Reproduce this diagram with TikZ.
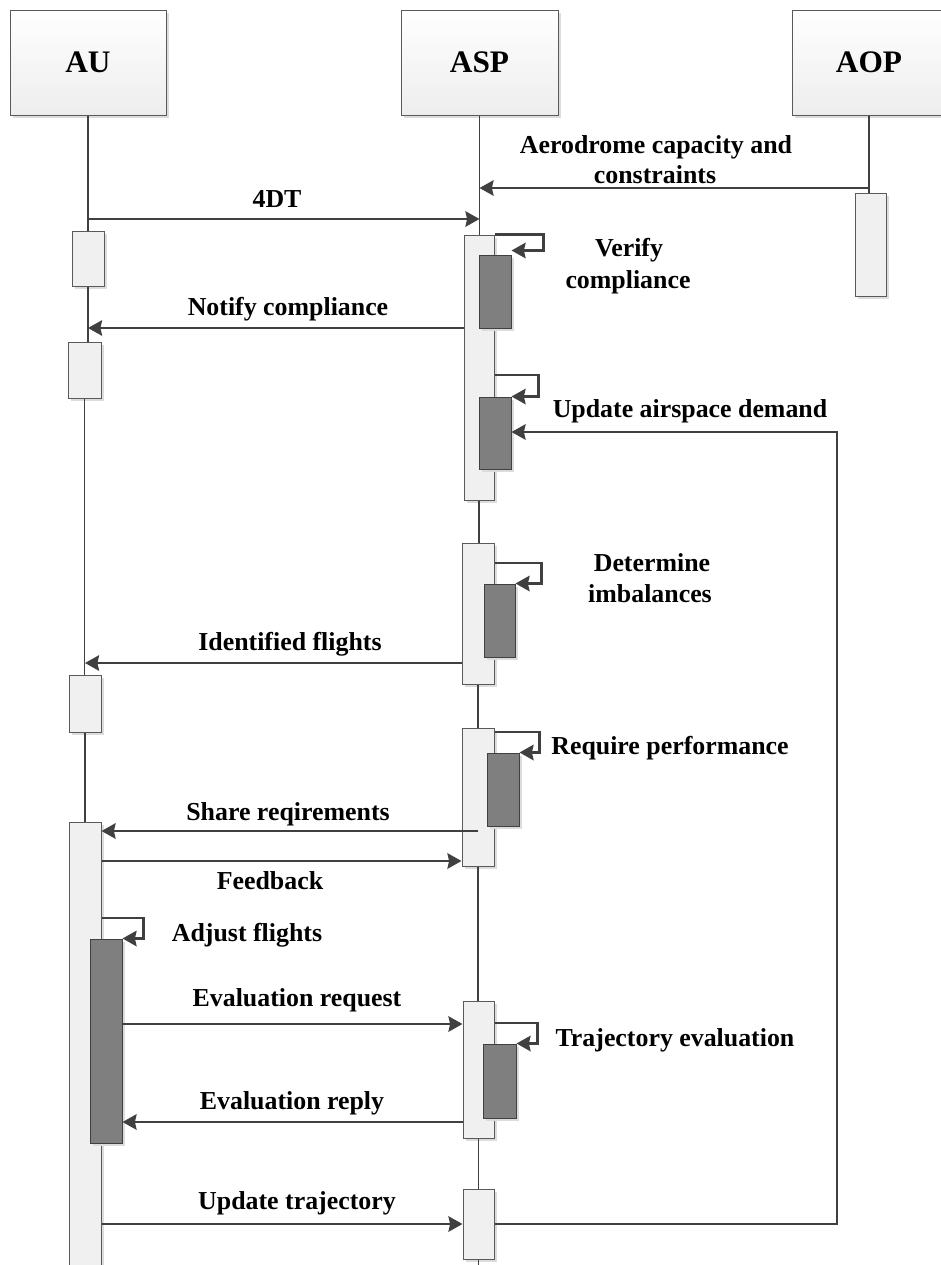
\documentclass[tikz,border=0pt]{standalone}
\usepackage{fontspec}
\setmainfont{Liberation Serif}
\usetikzlibrary{arrows.meta,fit,shadows}
\definecolor{ink}{HTML}{404040}
\definecolor{boxline}{HTML}{5A5A5A}
\definecolor{actfill}{HTML}{F0F0F0}
\definecolor{execfill}{HTML}{7F7F7F}
\definecolor{shadowgray}{HTML}{DCDCDC}

\begin{document}
\begin{tikzpicture}[x=0.75pt,y=-0.75pt,
  boxshadow/.style={drop shadow={shadow xshift=2.25pt,shadow yshift=-2.25pt,fill=shadowgray,opacity=1}},
  head/.style={draw=boxline, line width=0.75pt, top color=white, bottom color=gray!14,
               inner sep=0pt, minimum height=78.75pt, boxshadow,
               font=\bfseries\fontsize{23.5}{28}\selectfont},
  act/.style={draw=boxline, line width=0.75pt, fill=actfill, inner sep=0pt, boxshadow},
  exec/.style={draw=ink, line width=0.75pt, fill=execfill, inner sep=0pt, boxshadow},
  life/.style={draw=ink, line width=1pt},
  msg/.style={draw=ink, line width=2.1pt, -{Stealth[length=10.5pt,width=11.5pt,inset=1.2pt]}},
  lbl/.style={anchor=base, inner sep=0pt, font=\bfseries\fontsize{19.4}{23}\selectfont},
]
\useasboundingbox (0,0) rectangle (941,1265);
\clip (0,0) rectangle (941,1265);

% participants
\node[head, minimum width=117pt] (au) at (88,62.5) {AU};
\node[head, minimum width=117.75pt] (asp) at (479.5,62.5) {ASP};
\node[head, minimum width=115.5pt] (aop) at (869,62.5) {AOP};

% activation bars
\node[act, fit={(72,231) (104,286)}] (auA1) {};
\node[act, fit={(68,342) (101,398)}] (auA2) {};
\node[act, fit={(69,675) (101,732)}] (auA3) {};
\node[act, fit={(69,822) (101,1280)}] (auA4) {};
\node[exec, fit={(90,939) (122,1143)}] (auX1) {};

\node[act, fit={(464,235) (494,500)}] (aspA1) {};
\node[exec, fit={(479,255) (511,328)}] (aspX1) {};
\node[exec, fit={(479,397) (511,469)}] (aspX2) {};
\node[act, fit={(462,543) (494,684)}] (aspA2) {};
\node[exec, fit={(484,584) (515,657)}] (aspX3) {};
\node[act, fit={(462,728) (494,866)}] (aspA3) {};
\node[exec, fit={(487,753) (519,826)}] (aspX4) {};
\node[act, fit={(463,1001) (494,1138)}] (aspA4) {};
\node[exec, fit={(483,1044) (516,1118)}] (aspX5) {};
\node[act, fit={(463,1189) (494,1259)}] (aspA5) {};

\node[act, fit={(855,193) (886,296)}] (aopA1) {};

% lifelines
\coordinate (aspEnd) at (479,1270);
\draw[life] (au.south) -- (au.south |- auA1.north);
\draw[life] (auA1.south) -- (auA1.south |- auA2.north);
\draw[life] (auA2.south) -- (auA2.south |- auA3.north);
\draw[life] (auA3.south) -- (auA3.south |- auA4.north);
\draw[life] (asp.south) -- (asp.south |- aspA1.north);
\draw[life] (aspA1.south) -- (aspA1.south |- aspA2.north);
\draw[life] (aspA2.south) -- (aspA2.south |- aspA3.north);
\draw[life] (aspA3.south) -- (aspA3.south |- aspA4.north);
\draw[life] (aspA4.south) -- (aspA4.south |- aspA5.north);
\draw[life] (aspA5.south) -- (aspA5.south |- aspEnd);
\draw[life] (aop.south) -- (aop.south |- aopA1.north);

% messages
\draw[msg] (aop.south |- 0,188) -- (asp.south |- 0,188);
\draw[msg] (au.south |- 0,219) -- (asp.south |- 0,219);
\draw[msg] (aspA1.north east) -- ++(49,0) |- ([yshift=3pt]aspX1.north east);
\draw[msg] (aspA1.west |- 0,328) -- (au.south |- 0,328);
\draw[msg] (aspA1.east |- 0,375) -- ++(44,0) |- (aspX2.north east);
\coordinate (ret) at (837,432);
\draw[msg] (aspA5.east |- 0,1224) -| (ret) -- (aspX2.east |- ret);
\draw[msg] (aspA2.east |- 0,563) -- ++(47,0) |- (aspX3.north east);
\draw[msg] (aspA2.west |- 0,663) -- (auA3.north |- 0,663);
\draw[msg] (aspA3.east |- 0,732) -- ++(45,0) |- (aspX4.north east);
\draw[msg] (aspA3.center |- 0,831) -- (auA4.east |- 0,831);
\draw[msg] (auA4.east |- 0,861) -- (aspA3.west |- 0,861);
\draw[msg] (auA4.east |- 0,918) -- ++(42,0) |- (auX1.north east);
\draw[msg] (auX1.east |- 0,1024) -- (aspA4.west |- 0,1024);
\draw[msg] (aspA4.east |- 0,1023) -- ++(43,0) |- (aspX5.north east);
\draw[msg] (aspA4.west |- 0,1122) -- (auX1.east |- 0,1122);
\draw[msg] (auA4.east |- 0,1224) -- (aspA5.west |- 0,1224);

% labels
\node[lbl] (tAero1) at (656,153) {Aerodrome capacity and};
\node[lbl] (tAero2) at (655,183.5) {constraints};
\node[lbl] (t4dt) at (277,207) {4DT};
\node[lbl] (tVer1) at (629,256.5) {Verify};
\node[lbl] (tVer2) at (628,288) {compliance};
\node[lbl] (tNotify) at (288,315) {Notify compliance};
\node[lbl] (tUpd) at (690,417) {Update airspace demand};
\node[lbl] (tDet1) at (652,571) {Determine};
\node[lbl] (tDet2) at (650,602) {imbalances};
\node[lbl] (tIdent) at (290,650) {Identified flights};
\node[lbl] (tReq) at (670,754) {Require performance};
\node[lbl] (tShare) at (288,820.5) {Share reqirements};
\node[lbl] (tFeed) at (270,889) {Feedback};
\node[lbl] (tAdj) at (247,941.5) {Adjust flights};
\node[lbl] (tEvReq) at (297,1006) {Evaluation request};
\node[lbl] (tTraj) at (675,1046) {Trajectory evaluation};
\node[lbl] (tEvRep) at (292,1109) {Evaluation reply};
\node[lbl] (tUpdT) at (297,1209) {Update trajectory};
\end{tikzpicture}
\end{document}
